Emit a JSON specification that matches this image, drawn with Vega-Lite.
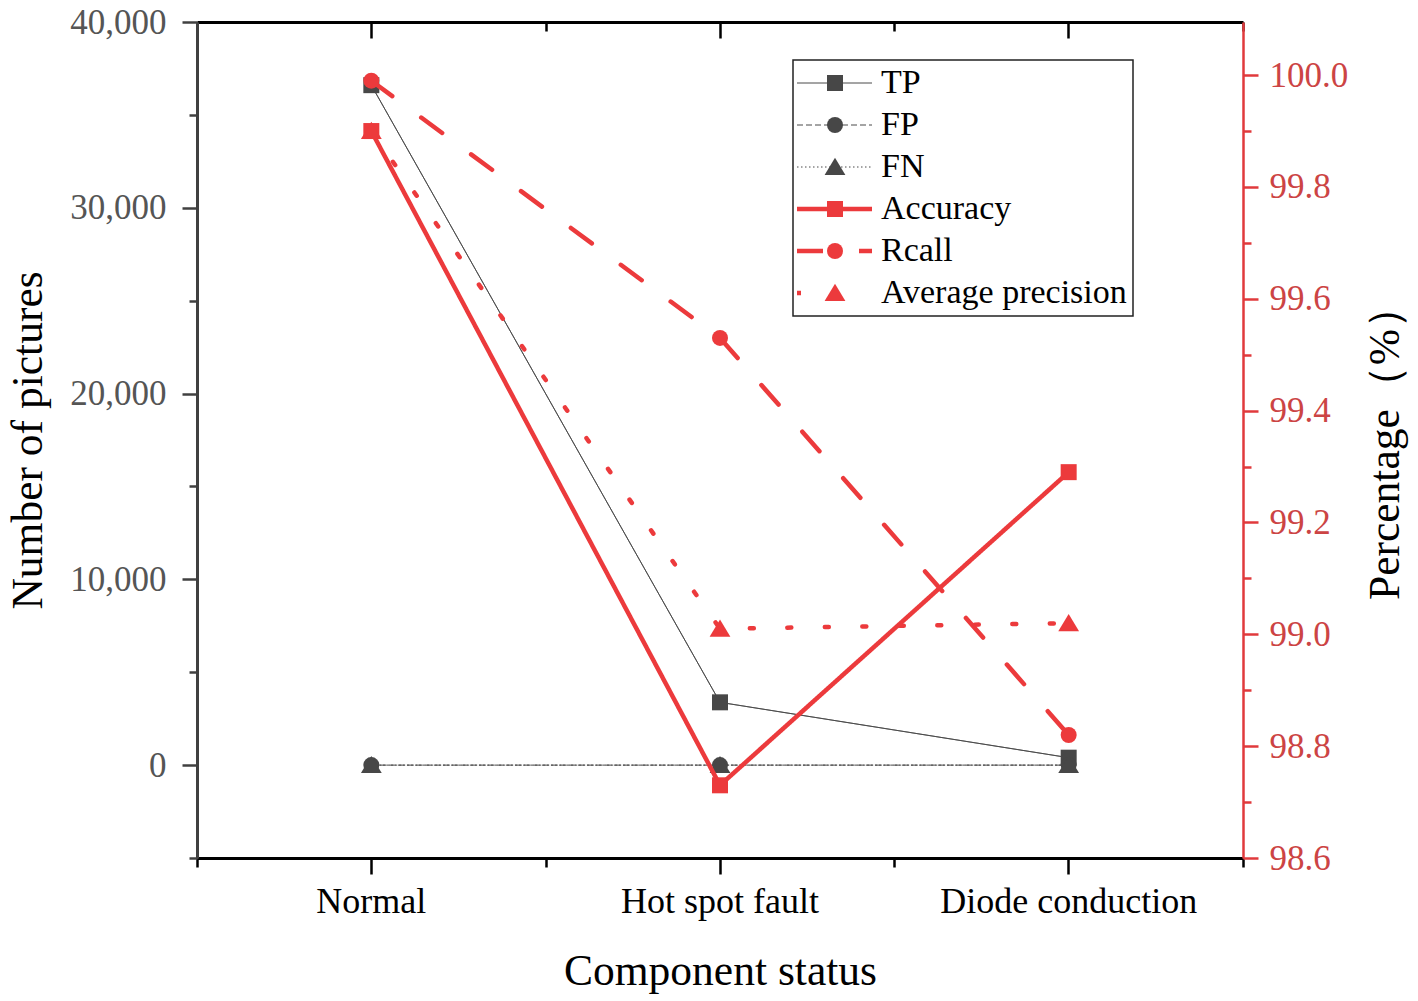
{
  "$schema": "https://vega.github.io/schema/vega-lite/v6.json",
  "width": 1046,
  "height": 836,
  "autosize": {"type": "none"},
  "padding": {"left": 197, "top": 22, "right": 175, "bottom": 143},
  "background": "white",
  "config": {
    "view": {"stroke": null},
    "font": "Liberation Serif",
    "axis": {"labelFont": "Liberation Serif", "titleFont": "Liberation Serif", "titleFontWeight": "normal", "grid": false, "labelOverlap": false, "labelLimit": 500},
    "legend": {"strokeWidth": 1.5}
  },
  "datasets": {
    "counts": [
      {"status": "Normal", "series": "TP", "value": 36600},
      {"status": "Hot spot fault", "series": "TP", "value": 3380},
      {"status": "Diode conduction", "series": "TP", "value": 400},
      {"status": "Normal", "series": "FP", "value": 0},
      {"status": "Hot spot fault", "series": "FP", "value": 0},
      {"status": "Diode conduction", "series": "FP", "value": 0},
      {"status": "Normal", "series": "FN", "value": 0},
      {"status": "Hot spot fault", "series": "FN", "value": 0},
      {"status": "Diode conduction", "series": "FN", "value": 0}
    ],
    "percent": [
      {"status": "Normal", "series": "Accuracy", "value": 99.9},
      {"status": "Hot spot fault", "series": "Accuracy", "value": 98.73},
      {"status": "Diode conduction", "series": "Accuracy", "value": 99.29},
      {"status": "Normal", "series": "Rcall", "value": 99.99},
      {"status": "Hot spot fault", "series": "Rcall", "value": 99.53},
      {"status": "Diode conduction", "series": "Rcall", "value": 98.82},
      {"status": "Normal", "series": "Average precision", "value": 99.9},
      {"status": "Hot spot fault", "series": "Average precision", "value": 99.01},
      {"status": "Diode conduction", "series": "Average precision", "value": 99.02}
    ]
  },
  "layer": [
    {
      "data": {"name": "counts"},
      "layer": [
        {
          "mark": {"type": "line", "strokeCap": "round"},
          "encoding": {
            "x": {
              "field": "status", "type": "nominal", "sort": null,
              "scale": {"type": "band", "domain": ["Normal", "Hot spot fault", "Diode conduction"], "paddingInner": 0, "paddingOuter": 0},
              "axis": {
                "orient": "bottom", "title": "Component status", "titleFontSize": 43.5, "titleColor": "black",
                "titleBaseline": "alphabetic", "titleY": 126,
                "labelFontSize": 36, "labelColor": "black", "labelPadding": 10, "labelAngle": 0, "labelLimit": 500,
                "domainColor": "black", "domainWidth": 3, "tickColor": "black", "tickWidth": 2.5, "tickSize": 16, "tickBand": "center"
              }
            },
            "y": {
              "field": "value", "type": "quantitative",
              "scale": {"domain": [-5000, 40000], "nice": false, "zero": false},
              "axis": {
                "orient": "left", "title": "Number of pictures", "titleFontSize": 43.5, "titleColor": "black",
                "titleAngle": -90, "titleBaseline": "alphabetic", "titleAlign": "center", "titleX": -156, "titleY": 418,
                "values": [0, 10000, 20000, 30000, 40000], "format": ",d",
                "labelFontSize": 35, "labelColor": "#555555", "labelPadding": 16,
                "domainColor": "#404040", "domainWidth": 3, "tickColor": "#404040", "tickWidth": 2.5, "tickSize": 15
              }
            },
            "stroke": {
              "field": "series", "type": "nominal",
              "scale": {"domain": ["TP", "FP", "FN", "Accuracy", "Rcall", "Average precision"], "range": ["#4a4a4a", "#4a4a4a", "#4a4a4a", "#ec3a3c", "#ec3a3c", "#ec3a3c"]},
              "legend": {
                "orient": "none", "legendX": 596, "legendY": 38, "direction": "vertical", "title": null,
                "labelFont": "Liberation Serif", "labelFontSize": 34, "labelColor": "black", "labelLimit": 500, "labelOffset": 48,
                "symbolSize": 256, "symbolType": "M-2.375,0H7", "symbolOpacity": 1,
                "rowPadding": 8, "padding": 6, "strokeColor": "#222222", "fillColor": "white", "zindex": 1
              }
            },
            "strokeDash": {
              "field": "series", "type": "nominal",
              "scale": {"domain": ["TP", "FP", "FN", "Accuracy", "Rcall", "Average precision"], "range": [[1, 0], [6, 3], [1.5, 2.5], [1, 0], [26, 36], [4, 33.5]]}
            },
            "strokeWidth": {
              "field": "series", "type": "nominal",
              "scale": {"type": "ordinal", "domain": ["TP", "FP", "FN", "Accuracy", "Rcall", "Average precision"], "range": [1, 1, 1, 4.5, 4.5, 4.5]}
            }
          }
        },
        {
          "mark": {"type": "point", "filled": true, "opacity": 1, "size": 256},
          "encoding": {
            "x": {
              "field": "status", "type": "nominal", "sort": null,
              "scale": {"type": "band", "domain": ["Normal", "Hot spot fault", "Diode conduction"], "paddingInner": 0, "paddingOuter": 0},
              "axis": {
                "orient": "top", "title": null, "labels": false,
                "domain": true, "domainColor": "black", "domainWidth": 3,
                "tickColor": "black", "tickWidth": 2.5, "tickSize": -16, "tickBand": "center"
              }
            },
            "y": {
              "field": "value", "type": "quantitative",
              "scale": {"domain": [-5000, 40000], "nice": false, "zero": false},
              "axis": {
                "orient": "left", "title": null, "labels": false, "domain": false,
                "values": [-5000, 5000, 15000, 25000, 35000],
                "tickColor": "#404040", "tickWidth": 2.5, "tickSize": 8
              }
            },
            "fill": {
              "field": "series", "type": "nominal",
              "scale": {"domain": ["TP", "FP", "FN", "Accuracy", "Rcall", "Average precision", "~"], "range": ["#474747", "#474747", "#474747", "#ec3a3c", "#ec3a3c", "#ec3a3c", "#ffffff"]},
              "legend": {
                "orient": "none", "legendX": 615, "legendY": 38, "direction": "vertical", "title": null,
                "values": ["TP", "FP", "FN", "Accuracy", "Rcall", "Average precision"],
                "labelExpr": "''",
                "labelFont": "Liberation Serif", "labelFontSize": 34, "labelOpacity": 0, "labelLimit": 500,
                "symbolSize": 256, "symbolStrokeWidth": 0, "symbolOpacity": 1,
                "rowPadding": 8, "padding": 6, "strokeColor": null, "fillColor": null, "zindex": 2
              }
            },
            "shape": {
              "field": "series", "type": "nominal",
              "scale": {"domain": ["TP", "FP", "FN", "Accuracy", "Rcall", "Average precision", "~"], "range": ["square", "circle", "M0,-1.15L1.3,1H-1.3Z", "square", "circle", "M0,-1.15L1.3,1H-1.3Z", "circle"]}
            }
          }
        }
      ],
      "resolve": {"axis": {"x": "independent", "y": "independent"}}
    },
    {
      "data": {"name": "percent"},
      "layer": [
        {
          "mark": {"type": "line", "strokeCap": "round"},
          "encoding": {
            "x": {
              "field": "status", "type": "nominal", "sort": null,
              "scale": {"type": "band", "domain": ["Normal", "Hot spot fault", "Diode conduction"], "paddingInner": 0, "paddingOuter": 0},
              "axis": {
                "orient": "bottom", "title": null, "labels": false, "domain": false,
                "tickColor": "black", "tickWidth": 2.5, "tickSize": 9, "tickBand": "extent"
              }
            },
            "y": {
              "field": "value", "type": "quantitative",
              "scale": {"domain": [98.6, 100.095], "nice": false, "zero": false},
              "axis": {
                "orient": "right", "title": "Percentage（%）", "titleFontSize": 43.5, "titleColor": "black",
                "titleAngle": -90, "titleBaseline": "alphabetic", "titleAlign": "center", "titleX": 155, "titleY": 420,
                "values": [98.6, 98.8, 99.0, 99.2, 99.4, 99.6, 99.8, 100.0], "format": ".1f",
                "labelFontSize": 35, "labelColor": "#cc4444", "labelPadding": 11,
                "domainColor": "#e03a3c", "domainWidth": 2.5, "tickColor": "#e03a3c", "tickWidth": 2.5, "tickSize": 15
              }
            },
            "stroke": {
              "field": "series", "type": "nominal",
              "scale": {"domain": ["TP", "FP", "FN", "Accuracy", "Rcall", "Average precision"], "range": ["#4a4a4a", "#4a4a4a", "#4a4a4a", "#ec3a3c", "#ec3a3c", "#ec3a3c"]},
              "legend": {
                "orient": "none", "legendX": 596, "legendY": 38, "direction": "vertical", "title": null,
                "labelFont": "Liberation Serif", "labelFontSize": 34, "labelColor": "black", "labelLimit": 500, "labelOffset": 48,
                "symbolSize": 256, "symbolType": "M-2.375,0H7", "symbolOpacity": 1,
                "rowPadding": 8, "padding": 6, "strokeColor": "#222222", "fillColor": "white", "zindex": 1
              }
            },
            "strokeDash": {
              "field": "series", "type": "nominal",
              "scale": {"domain": ["TP", "FP", "FN", "Accuracy", "Rcall", "Average precision"], "range": [[1, 0], [6, 3], [1.5, 2.5], [1, 0], [26, 36], [4, 33.5]]}
            },
            "strokeWidth": {
              "field": "series", "type": "nominal",
              "scale": {"type": "ordinal", "domain": ["TP", "FP", "FN", "Accuracy", "Rcall", "Average precision"], "range": [1, 1, 1, 4.5, 4.5, 4.5]}
            }
          }
        },
        {
          "mark": {"type": "point", "filled": true, "opacity": 1, "size": 256},
          "encoding": {
            "x": {
              "field": "status", "type": "nominal", "sort": null,
              "scale": {"type": "band", "domain": ["Normal", "Hot spot fault", "Diode conduction"], "paddingInner": 0, "paddingOuter": 0},
              "axis": {
                "orient": "top", "title": null, "labels": false, "domain": false,
                "tickColor": "black", "tickWidth": 2.5, "tickSize": -9, "tickBand": "extent"
              }
            },
            "y": {
              "field": "value", "type": "quantitative",
              "scale": {"domain": [98.6, 100.095], "nice": false, "zero": false},
              "axis": {
                "orient": "right", "title": null, "labels": false, "domain": false,
                "values": [98.7, 98.9, 99.1, 99.3, 99.5, 99.7, 99.9],
                "tickColor": "#e03a3c", "tickWidth": 2.5, "tickSize": 8
              }
            },
            "fill": {
              "field": "series", "type": "nominal",
              "scale": {"domain": ["TP", "FP", "FN", "Accuracy", "Rcall", "Average precision", "~"], "range": ["#474747", "#474747", "#474747", "#ec3a3c", "#ec3a3c", "#ec3a3c", "#ffffff"]},
              "legend": {
                "orient": "none", "legendX": 615, "legendY": 38, "direction": "vertical", "title": null,
                "values": ["TP", "FP", "FN", "Accuracy", "Rcall", "Average precision"],
                "labelExpr": "''",
                "labelFont": "Liberation Serif", "labelFontSize": 34, "labelOpacity": 0, "labelLimit": 500,
                "symbolSize": 256, "symbolStrokeWidth": 0, "symbolOpacity": 1,
                "rowPadding": 8, "padding": 6, "strokeColor": null, "fillColor": null, "zindex": 2
              }
            },
            "shape": {
              "field": "series", "type": "nominal",
              "scale": {"domain": ["TP", "FP", "FN", "Accuracy", "Rcall", "Average precision", "~"], "range": ["square", "circle", "M0,-1.15L1.3,1H-1.3Z", "square", "circle", "M0,-1.15L1.3,1H-1.3Z", "circle"]}
            }
          }
        }
      ],
      "resolve": {"axis": {"x": "independent", "y": "independent"}}
    }
  ],
  "resolve": {"scale": {"y": "independent"}, "axis": {"x": "independent", "y": "independent"}}
}
